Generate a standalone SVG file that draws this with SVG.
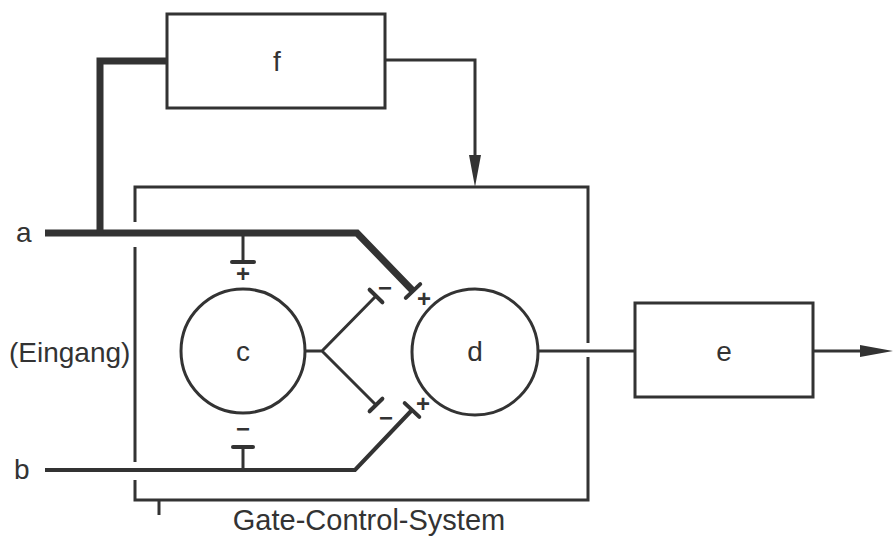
<svg xmlns="http://www.w3.org/2000/svg" width="895" height="538" viewBox="0 0 895 538">
<style>
.ln{fill:none;stroke:#333;stroke-width:3;stroke-linecap:butt;stroke-linejoin:miter}
.thick{fill:none;stroke:#333;stroke-width:7;stroke-linejoin:miter}
.med{fill:none;stroke:#333;stroke-width:4;stroke-linejoin:miter}
.bar{stroke:#333;stroke-width:4;stroke-linecap:round}
.lbl{font-family:"Liberation Sans",Arial,sans-serif;font-size:28px;fill:#333}
.sym{font-family:"Liberation Sans",Arial,sans-serif;font-size:24px;font-weight:bold;fill:#333;text-anchor:middle;dominant-baseline:central}
.ah{fill:#333}
</style>
<rect width="895" height="538" fill="#fff"/>

<g id="gcs">
  <path class="ln" d="M135,222 V187 H588 V343 M588,357 V500 H135 V480 M135,462 V247"/>
  <path class="ln" d="M159,500 V515"/>
  <text class="lbl" x="369" y="530" text-anchor="middle" style="font-size:29px">Gate-Control-System</text>
</g>

<g id="f">
  <rect class="ln" x="167" y="14" width="218" height="94"/>
  <text class="lbl" x="277" y="71" text-anchor="middle">f</text>
</g>

<g id="c">
  <circle class="ln" cx="243" cy="351" r="62"/>
  <text class="lbl" x="243" y="361" text-anchor="middle">c</text>
</g>

<g id="d">
  <circle class="ln" cx="475" cy="352" r="63"/>
  <text class="lbl" x="475" y="361" text-anchor="middle">d</text>
</g>

<g id="e">
  <rect class="ln" x="635" y="303" width="178" height="94"/>
  <text class="lbl" x="724" y="361" text-anchor="middle">e</text>
</g>

<g id="inputs">
  <text class="lbl" x="16" y="242">a</text>
  <text class="lbl" x="14" y="479">b</text>
  <text class="lbl" x="9" y="362">(Eingang)</text>
</g>

<g id="connectors">
  <path class="thick" d="M45,233 H357 L413,291"/>
  <path class="thick" d="M100,233 V61 H167"/>
  <line class="bar" x1="405.8" y1="297.9" x2="420.2" y2="284.1"/>
  <path class="ln" d="M243,233 V262"/>
  <line class="bar" x1="232" y1="262" x2="254" y2="262"/>
  <path class="med" d="M45,470 H355 L412,410"/>
  <line class="bar" x1="404.7" y1="403.1" x2="419.3" y2="416.9"/>
  <path class="ln" d="M243,470 V447"/>
  <line class="bar" x1="233" y1="447" x2="253" y2="447"/>
  <path class="ln" d="M305,351 H322 L376,296 M322,351 L376,405"/>
  <line class="bar" x1="369.6" y1="289.7" x2="382.4" y2="302.3"/>
  <line class="bar" x1="369.6" y1="411.3" x2="382.4" y2="398.7"/>
  <path class="ln" d="M385,60 H475 V158"/>
  <polygon class="ah" points="469,155 481,155 475,187"/>
  <path class="ln" d="M538,351 H635"/>
  <path class="ln" d="M813,351 H864"/>
  <polygon class="ah" points="860,345 893,351 860,357"/>
  <text class="sym" x="243" y="273">+</text>
  <text class="sym" x="243" y="428">−</text>
  <text class="sym" x="385" y="287">−</text>
  <text class="sym" x="386" y="417">−</text>
  <text class="sym" x="424" y="298">+</text>
  <text class="sym" x="423" y="403">+</text>
</g>
</svg>
